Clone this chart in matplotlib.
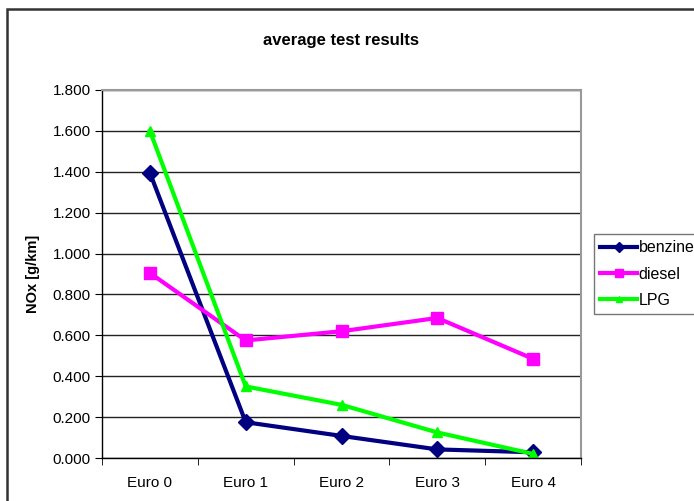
import matplotlib
matplotlib.use("Agg")
import matplotlib.pyplot as plt
from matplotlib.patches import Rectangle

categories = ["Euro 0", "Euro 1", "Euro 2", "Euro 3", "Euro 4"]
benzine = [1.395, 0.175, 0.108, 0.042, 0.028]
diesel = [0.905, 0.575, 0.620, 0.685, 0.485]
lpg = [1.600, 0.350, 0.260, 0.125, 0.020]
yticks = [0.0, 0.2, 0.4, 0.6, 0.8, 1.0, 1.2, 1.4, 1.6, 1.8]

plt.rcParams['font.family'] = ['Liberation Sans', 'DejaVu Sans']

W, H = 694, 501
fig = plt.figure(figsize=(W / 100, H / 100), dpi=100)
fig.patch.set_facecolor('white')

# outer frame (extends beyond right/bottom edges)
fig.patches.append(Rectangle((7 / W, -0.1), 1.2, (H - 9) / H + 0.1,
                             transform=fig.transFigure, fill=False,
                             edgecolor='#333333', linewidth=1.8))

ax = fig.add_axes([102 / W, (H - 458) / H, (581 - 102) / W, (458 - 90) / H])
x = list(range(len(categories)))
ax.plot(x, benzine, color='#000080', lw=3, marker='D', ms=8, label='benzine')
ax.plot(x, diesel, color='#FF00FF', lw=3, marker='s', ms=9, label='diesel')
ax.plot(x, lpg, color='#00FF00', lw=3, marker='^', ms=7, label='LPG')

ax.set_xlim(-0.5, 4.5)
ax.set_ylim(0, 1.8)
ax.set_yticks(yticks)
ax.set_yticklabels([f"{v:.3f}" for v in yticks], fontsize=11)
ax.set_xticks(x)
ax.set_xticklabels(categories, fontsize=11)
ax.set_xticks([i - 0.5 for i in range(6)], minor=True)
ax.tick_params(axis='x', which='major', length=0, pad=13)
ax.tick_params(axis='x', which='minor', length=5, direction='out', color='black')
ax.tick_params(axis='y', length=5, direction='out', color='black', pad=3)
ax.grid(axis='y', color='#222222', lw=1)
ax.set_axisbelow(True)
for s in ['top', 'right']:
    ax.spines[s].set_color('#999999')
    ax.spines[s].set_linewidth(1.5)
for s in ['left', 'bottom']:
    ax.spines[s].set_color('black')
    ax.spines[s].set_linewidth(1)

ax.set_ylabel('NOx [g/km]', fontsize=10.5, fontweight='bold', labelpad=9)
fig.text(341 / W, 1 - 40 / H, 'average test results', ha='center', va='center',
         fontsize=12, fontweight='bold')

leg = ax.legend(loc='upper left', bbox_to_anchor=(594 / W, 1 - 234 / H),
                bbox_transform=fig.transFigure, frameon=True, fancybox=False,
                edgecolor='#555555', fontsize=11.5, handlelength=2.3,
                handletextpad=0.1, borderpad=0.4, labelspacing=0.7,
                borderaxespad=0, markerscale=0.7)
leg.get_frame().set_linewidth(1)

fig.savefig('out.png', dpi=100)
